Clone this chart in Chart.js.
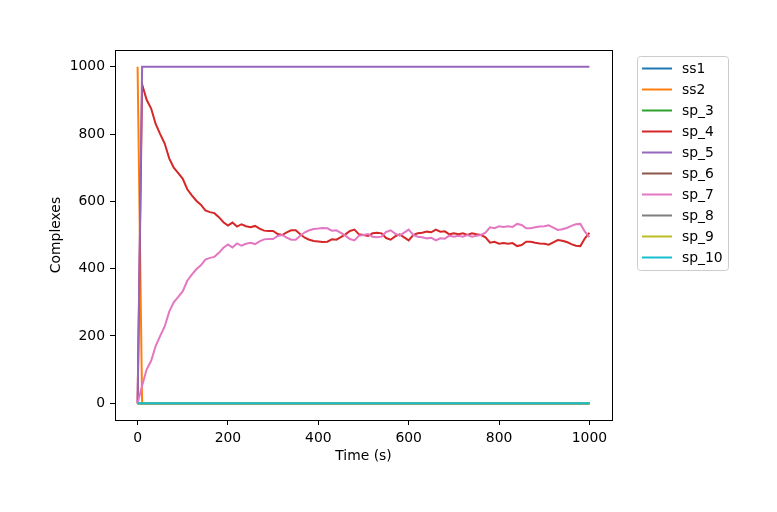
<!DOCTYPE html>
<html>
<head>
<meta charset="utf-8">
<title>Complexes over time</title>
<script src="https://cdn.jsdelivr.net/npm/chart.js@4/dist/chart.umd.min.js"></script>
<style>
html, body { margin: 0; padding: 0; background: #fff; }
canvas { display: block; }
</style>
</head>
<body>
<canvas id="chart" width="777" height="512"></canvas>
<script>
// time samples (s)
const times = [
    0, 10, 20, 30, 40, 50, 60, 70, 80, 90,
    100, 110, 120, 130, 140, 150, 160, 170, 180, 190,
    200, 210, 220, 230, 240, 250, 260, 270, 280, 290,
    300, 310, 320, 330, 340, 350, 360, 370, 380, 390,
    400, 410, 420, 430, 440, 450, 460, 470, 480, 490,
    500, 510, 520, 530, 540, 550, 560, 570, 580, 590,
    600, 610, 620, 630, 640, 650, 660, 670, 680, 690,
    700, 710, 720, 730, 740, 750, 760, 770, 780, 790,
    800, 810, 820, 830, 840, 850, 860, 870, 880, 890,
    900, 910, 920, 930, 940, 950, 960, 970, 980, 990,
    1000
];

// species that stay at zero the whole run
const zeros = [
    0, 0, 0, 0, 0, 0, 0, 0, 0, 0,
    0, 0, 0, 0, 0, 0, 0, 0, 0, 0,
    0, 0, 0, 0, 0, 0, 0, 0, 0, 0,
    0, 0, 0, 0, 0, 0, 0, 0, 0, 0,
    0, 0, 0, 0, 0, 0, 0, 0, 0, 0,
    0, 0, 0, 0, 0, 0, 0, 0, 0, 0,
    0, 0, 0, 0, 0, 0, 0, 0, 0, 0,
    0, 0, 0, 0, 0, 0, 0, 0, 0, 0,
    0, 0, 0, 0, 0, 0, 0, 0, 0, 0,
    0, 0, 0, 0, 0, 0, 0, 0, 0, 0,
    0
];

const ss2 = [
    1000, 0, 0, 0, 0, 0, 0, 0, 0, 0,
    0, 0, 0, 0, 0, 0, 0, 0, 0, 0,
    0, 0, 0, 0, 0, 0, 0, 0, 0, 0,
    0, 0, 0, 0, 0, 0, 0, 0, 0, 0,
    0, 0, 0, 0, 0, 0, 0, 0, 0, 0,
    0, 0, 0, 0, 0, 0, 0, 0, 0, 0,
    0, 0, 0, 0, 0, 0, 0, 0, 0, 0,
    0, 0, 0, 0, 0, 0, 0, 0, 0, 0,
    0, 0, 0, 0, 0, 0, 0, 0, 0, 0,
    0, 0, 0, 0, 0, 0, 0, 0, 0, 0,
    0
];

const sp5 = [
    0, 1000, 1000, 1000, 1000, 1000, 1000, 1000, 1000, 1000,
    1000, 1000, 1000, 1000, 1000, 1000, 1000, 1000, 1000, 1000,
    1000, 1000, 1000, 1000, 1000, 1000, 1000, 1000, 1000, 1000,
    1000, 1000, 1000, 1000, 1000, 1000, 1000, 1000, 1000, 1000,
    1000, 1000, 1000, 1000, 1000, 1000, 1000, 1000, 1000, 1000,
    1000, 1000, 1000, 1000, 1000, 1000, 1000, 1000, 1000, 1000,
    1000, 1000, 1000, 1000, 1000, 1000, 1000, 1000, 1000, 1000,
    1000, 1000, 1000, 1000, 1000, 1000, 1000, 1000, 1000, 1000,
    1000, 1000, 1000, 1000, 1000, 1000, 1000, 1000, 1000, 1000,
    1000, 1000, 1000, 1000, 1000, 1000, 1000, 1000, 1000, 1000,
    1000
];

const sp4 = [
    0, 948, 902, 876, 830, 800, 772, 728, 700, 684,
    667, 636, 618, 602, 590, 573, 568, 565, 553, 538,
    528, 537, 525, 532, 526, 523, 527, 519, 513, 512,
    512, 503, 500, 508, 514, 514, 502, 492, 486, 482,
    481, 479, 480, 487, 486, 494, 502, 512, 516, 502,
    500, 497, 505, 507, 505, 491, 486, 496, 502, 493,
    484, 500, 505, 507, 510, 508, 516, 510, 511, 502,
    505, 502, 505, 500, 505, 502, 500, 493, 477, 480,
    474, 476, 474, 476, 467, 470, 480, 480, 477, 475,
    474, 471, 478, 485, 483, 479, 473, 468, 467, 490,
    506
];

const sp7 = [
    0, 52, 100, 126, 170, 200, 228, 272, 300, 316,
    333, 364, 382, 398, 410, 427, 432, 435, 447, 462,
    472, 463, 475, 468, 474, 477, 473, 481, 487, 488,
    488, 497, 500, 492, 486, 486, 498, 508, 514, 518,
    519, 521, 520, 513, 514, 506, 498, 488, 484, 498,
    500, 503, 495, 493, 495, 509, 514, 504, 498, 507,
    516, 500, 495, 493, 490, 492, 484, 490, 489, 498,
    495, 498, 495, 500, 495, 498, 500, 507, 523, 520,
    526, 524, 526, 524, 533, 530, 520, 520, 523, 525,
    526, 529, 522, 515, 517, 521, 527, 532, 533, 510,
    494
];

const seriesNames = ['ss1', 'ss2', 'sp_3', 'sp_4', 'sp_5', 'sp_6', 'sp_7', 'sp_8', 'sp_9', 'sp_10'];
const seriesValues = [zeros, ss2, zeros, sp4, sp5, zeros, sp7, zeros, zeros, zeros];
const colors = ['#1f77b4', '#ff7f0e', '#2ca02c', '#d62728', '#9467bd',
                '#8c564b', '#e377c2', '#7f7f7f', '#bcbd22', '#17becf'];

const xTicks = [0, 200, 400, 600, 800, 1000];
const yTicks = [0, 200, 400, 600, 800, 1000];

const FONT = 'DejaVu Sans';
const FONT_SIZE = 13.9;

// axes frame (top/right spines) and matplotlib-like legend box
const frameAndLegend = {
    id: 'frameAndLegend',
    afterDraw(chart) {
        const { ctx, chartArea: a } = chart;
        ctx.save();
        ctx.strokeStyle = '#000';
        ctx.lineWidth = 1;
        ctx.strokeRect(Math.round(a.left) + 0.5, Math.round(a.top) + 0.5,
            Math.round(a.right - a.left), Math.round(a.bottom - a.top));

        const lx = 637.5, ly = 56.5, lw = 91, lh = 214;
        ctx.beginPath();
        ctx.roundRect(lx, ly, lw, lh, 3);
        ctx.fillStyle = 'rgba(255,255,255,0.8)';
        ctx.fill();
        ctx.strokeStyle = '#cccccc';
        ctx.stroke();

        ctx.font = FONT_SIZE + 'px "' + FONT + '"';
        ctx.textBaseline = 'middle';
        ctx.textAlign = 'left';
        chart.data.datasets.forEach((ds, i) => {
            const y = 68.5 + i * 21;
            ctx.beginPath();
            ctx.strokeStyle = ds.borderColor;
            ctx.lineWidth = 2;
            ctx.moveTo(642, y);
            ctx.lineTo(672, y);
            ctx.stroke();
            ctx.fillStyle = '#000';
            ctx.fillText(ds.label, 682, y + 0.5);
        });
        ctx.restore();
    }
};

Chart.defaults.color = '#000';
Chart.defaults.font.family = FONT;
Chart.defaults.font.size = FONT_SIZE;

const datasets = seriesNames.map((name, i) => ({
    label: name,
    data: times.map((t, j) => ({ x: t, y: seriesValues[i][j] })),
    borderColor: colors[i],
    backgroundColor: colors[i],
    borderWidth: 2,
    pointRadius: 0,
    tension: 0,
    fill: false,
    order: seriesNames.length - i // later series drawn on top
}));

new Chart(document.getElementById('chart').getContext('2d'), {
    type: 'line',
    data: { datasets },
    options: {
        responsive: false,
        animation: false,
        devicePixelRatio: 1,
        layout: { padding: { top: 50, right: 165, bottom: 0, left: 0 } },
        plugins: {
            legend: { display: false },
            tooltip: { enabled: false }
        },
        scales: {
            x: {
                type: 'linear',
                min: -50,
                max: 1050,
                afterBuildTicks(axis) {
                    axis.ticks = xTicks.map(v => ({ value: v }));
                },
                afterFit(scale) {
                    scale.height = 92;
                },
                ticks: { padding: 5, maxRotation: 0, color: '#000', callback: v => String(v) },
                grid: { drawOnChartArea: false, color: '#000', tickLength: 5 },
                border: { color: '#000', width: 1 },
                title: {
                    display: true,
                    text: 'Time (s)',
                    color: '#000',
                    padding: { top: 0, bottom: 47 }
                }
            },
            y: {
                type: 'linear',
                min: -50,
                max: 1050,
                afterBuildTicks(axis) {
                    axis.ticks = yTicks.map(v => ({ value: v }));
                },
                afterFit(scale) {
                    scale.width = 115;
                },
                ticks: { padding: 5, color: '#000', callback: v => String(v) },
                grid: { drawOnChartArea: false, color: '#000', tickLength: 5 },
                border: { color: '#000', width: 1 },
                title: {
                    display: true,
                    text: 'Complexes',
                    color: '#000',
                    padding: { top: 48, bottom: 0 }
                }
            }
        }
    },
    plugins: [frameAndLegend]
});
</script>
</body>
</html>
